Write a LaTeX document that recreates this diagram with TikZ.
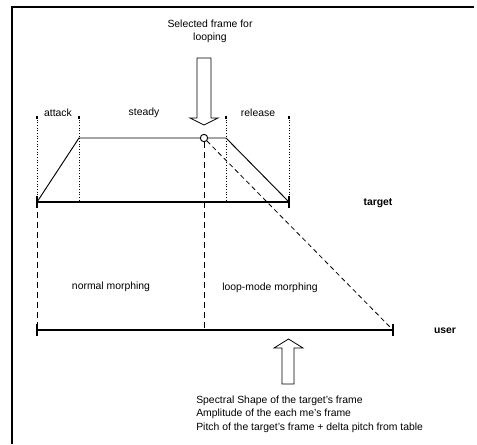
\documentclass[tikz,border=0pt]{standalone}
\usepackage{fontspec}
\setmainfont{Liberation Sans}
\usetikzlibrary{arrows.meta,positioning,calc}
\tikzset{
  every node/.style={font=\fontsize{7.8}{10}\selectfont,inner sep=0pt},
  frameline/.style={line width=2.2pt},
  axis/.style={line width=1.8pt},
  endtick/.style={line width=1.8pt},
  envelope/.style={line width=0.7pt},
  phase/.style={line width=0.7pt,dash pattern=on 0.7pt off 1.3pt},
  phasetip/.style={line width=1.3pt},
  morph/.style={line width=0.7pt,dash pattern=on 4.5pt off 3pt},
  skew/.style={line width=0.6pt,dash pattern=on 3.5pt off 2.5pt},
  bigarrow/.style={draw,line width=0.6pt,fill=white},
  tag/.style={font=\fontsize{7.8}{10}\selectfont\bfseries},
  textline/.style={anchor=west},
}
\begin{document}
\begin{tikzpicture}[x=0.75pt,y=-0.75pt]
\useasboundingbox (0,0) rectangle (477,444);

% frame
\draw[frameline] (12,444) -- (12,7) -- (474,7);

% key points
\coordinate (t0) at (37,202);
\coordinate (t1) at (289,202);
\coordinate (u0) at (37,330);
\coordinate (u1) at (393,330);
\coordinate (a0) at (79,138);
\coordinate (r0) at (226,138);
\coordinate (loopframe) at (204,138);
\coordinate (uloop) at (204,330);
\coordinate (uend) at (391,328);

% phase markers
\foreach \px/\nm in {37/pa,79/pb,226/pc,289/pd}{
  \coordinate (\nm) at (\px,117);
  \draw[phase] (\nm) -- (\px,202);
  \draw[phasetip] (\px,116) -- (\px,119);
}
\node (attack) at (58,113) {attack};
\node (steady) at (144,113) {steady};
\node (release) at (258,113) {release};

% envelope
\draw[envelope] (t0) -- (a0) -- ($(loopframe)+(-3.5,0)$);
\draw[envelope] ($(loopframe)+(3.5,0)$) -- (r0) -- (t1);
\node[draw,circle,line width=0.7pt,minimum size=5.5pt] (circ) at (loopframe) {};

% axes
\draw[axis] (t0) -- (t1);
\draw[axis] (u0) -- (u1);
\foreach \ep in {t0,t1,u0,u1}
  \draw[endtick] ($(\ep)+(0,-6)$) -- ($(\ep)+(0,6)$);
\node[tag] (target) at (378,203) {target};
\node[tag] (user) at (445,331) {user};

% morphing regions
\draw[morph] (t0) -- (u0);
\draw[morph] (circ.south) -- (uloop);
\draw[skew] (circ.south east) -- (uend);
\node (normal) at (111,287) {normal morphing};
\node (loopmode) at (270,288) {loop-mode morphing};

% selected frame arrow
\node[align=center] (selected) at (210,31) {Selected frame for\\looping};
\draw[bigarrow] (197,58) -- (211,58) -- (211,118) -- (218,118) -- (204,125)
  -- (190,118) -- (197,118) -- cycle;

% input arrow
\draw[bigarrow] (282,384) -- (294,384) -- (294,348) -- (303,348) -- (288.5,339)
  -- (274,348) -- (282,348) -- cycle;
\node[textline] (spec) at (196,401) {Spectral Shape of the target's frame};
\node[textline] (ampl) at (196,414) {Amplitude of the each me's frame};
\node[textline] (pitch) at (196,428) {Pitch of the target's frame + delta pitch from table};
\end{tikzpicture}
\end{document}
